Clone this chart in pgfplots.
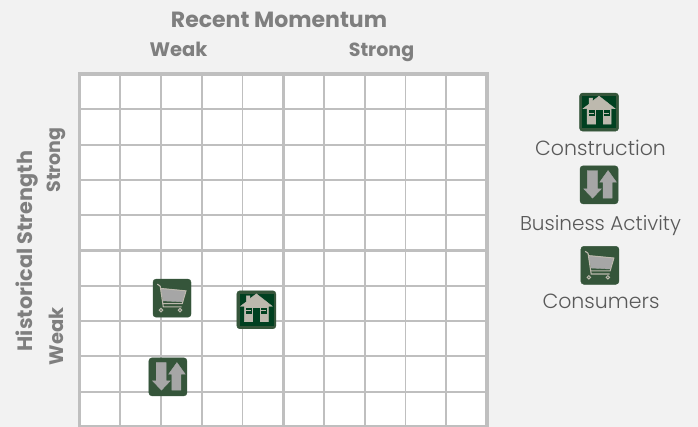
\documentclass[border=0pt]{standalone}
\usepackage{fontspec}
\setmainfont{Poppins}[UprightFont=* Light,BoldFont=* Bold]
\usepackage{pgfplots}
\pgfplotsset{compat=1.18}
\definecolor{bg}{HTML}{F2F2F2}
\definecolor{gridc}{HTML}{BFBFBF}
\definecolor{tile}{HTML}{35553A}
\definecolor{tiled}{HTML}{004020}
\definecolor{iconl}{HTML}{BDB9AE}
\definecolor{arrowc}{HTML}{A6A6A6}
\definecolor{labc}{HTML}{7F7F7F}
\definecolor{legc}{HTML}{595959}
\pgfdeclareplotmark{house}{%
  \fill[tile,rounded corners=3pt] (-19.5pt,-19pt) rectangle (19.5pt,19pt);
  \fill[tiled] (-16.5pt,-15pt) rectangle (16.5pt,16pt);
  \fill[iconl] (0pt,16pt) -- (-6.5pt,11pt) -- (-6.5pt,14pt) -- (-10pt,14pt) -- (-10pt,8pt) -- (-16pt,3.5pt) -- (-12pt,3.5pt) -- (-12pt,-12pt) -- (12pt,-12pt) -- (12pt,3.5pt) -- (16pt,3.5pt) -- cycle;
  \fill[tiled] (-2.7pt,-12pt) rectangle (2.7pt,2pt);
  \fill[tiled] (-10pt,-3pt) rectangle (-5pt,1.5pt);
  \fill[tiled] (5pt,-3pt) rectangle (10pt,1.5pt);
  \draw[iconl,line width=0.6pt] (-10pt,-0.75pt) -- (-5pt,-0.75pt) (5pt,-0.75pt) -- (10pt,-0.75pt);
}
\pgfdeclareplotmark{updown}{%
  \fill[tile,rounded corners=3pt] (-19pt,-19pt) rectangle (19pt,19pt);
  \fill[arrowc] (-11.7pt,14.3pt) -- (-1.7pt,14.3pt) -- (-1.7pt,-4pt) -- (2.3pt,-4pt) -- (-6.5pt,-13.3pt) -- (-15.3pt,-4pt) -- (-11.7pt,-4pt) -- cycle;
  \fill[arrowc] (9pt,14.3pt) -- (17.3pt,2.7pt) -- (13pt,2.7pt) -- (13pt,-13.3pt) -- (4pt,-13.3pt) -- (4pt,2.7pt) -- (0.7pt,2.7pt) -- cycle;
}
\pgfdeclareplotmark{cart}{%
  \fill[tile,rounded corners=3pt] (-19pt,-19pt) rectangle (19pt,19pt);
  \fill[arrowc] (-11.3pt,9.7pt) -- (14pt,7.3pt) -- (10.3pt,-3.7pt) -- (-8.7pt,-2.7pt) -- cycle;
  \draw[iconl,line width=1.1pt] (-14.7pt,14pt) -- (-11.8pt,12pt) -- (-8.7pt,-8.7pt) -- (9.7pt,-8.7pt);
  \draw[iconl,line width=1pt] (-11.3pt,9.7pt) -- (14pt,7.3pt) -- (10.3pt,-5.5pt) -- (-9pt,-5.5pt);
  \draw[iconl,line width=1pt] (-11pt,-12pt) circle (1.7pt);
  \draw[iconl,line width=1pt] (8pt,-12pt) circle (1.7pt);
}
\begin{document}
\begin{tikzpicture}[x=1pt,y=1pt]
\path[use as bounding box,fill=bg] (0,0) rectangle (698,427);
\begin{axis}[
  at={(79.5pt,0pt)},anchor=south west,
  scale only axis,width=407.5pt,height=353pt,
  xmin=0,xmax=10,ymin=0,ymax=10,
  xtick={0,1,...,10},ytick={0,1,...,10},
  xticklabels={},yticklabels={},
  major tick length=0pt,
  grid=major,
  major grid style={gridc,line width=1.9pt},
  axis line style={gridc,line width=3.4pt},
  axis background/.style={fill=white},
  clip=false,
  axis on top=false,
]
\addplot[gridc,line width=3.2pt] coordinates {(5,0) (5,10)};
\addplot[gridc,line width=3.2pt] coordinates {(0,5) (10,5)};
\addplot[only marks,mark=cart] coordinates {(2.27,3.65)};
\addplot[only marks,mark=house] coordinates {(4.34,3.32)};
\addplot[only marks,mark=updown] coordinates {(2.17,1.42)};
\addplot[only marks,mark=house] coordinates {(12.75,8.92)};
\addplot[only marks,mark=updown] coordinates {(12.75,6.86)};
\addplot[only marks,mark=cart] coordinates {(12.77,4.58)};
\end{axis}
\node[text=labc,font=\fontsize{22}{24}\selectfont\bfseries] at (279,407) {Recent Momentum};
\node[text=labc,font=\fontsize{19.5}{24}\selectfont\bfseries,anchor=base] at (178.5,370) {Weak};
\node[text=labc,font=\fontsize{19}{24}\selectfont\bfseries,anchor=base] at (381.5,370) {Strong};
\node[text=labc,font=\fontsize{20.8}{24}\selectfont\bfseries,rotate=90] at (27,176) {Historical Strength};
\node[text=labc,font=\fontsize{19}{24}\selectfont\bfseries,rotate=90] at (56,267) {Strong};
\node[text=labc,font=\fontsize{19.5}{24}\selectfont\bfseries,rotate=90] at (56,90.5) {Weak};
\node[text=legc,font=\fontsize{20.5}{24}\selectfont] at (600.5,279) {Construction};
\node[text=legc,font=\fontsize{20}{24}\selectfont] at (600.5,201) {Business Activity};
\node[text=legc,font=\fontsize{20.5}{24}\selectfont] at (601,126) {Consumers};
\end{tikzpicture}
\end{document}
